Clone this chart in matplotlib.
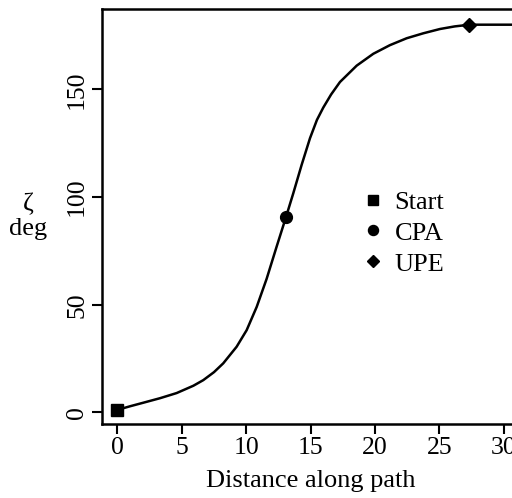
import matplotlib
matplotlib.use("Agg")
import matplotlib.pyplot as plt

plt.rcParams['font.family'] = ['Liberation Serif', 'DejaVu Serif']

# values
distance = [0, 1.0, 2.0, 3.3, 4.6, 5.9, 6.67, 7.5, 8.22, 9.26, 10.04, 10.82, 11.59,
            12.37, 13.09, 13.66, 14.31, 14.96, 15.5, 15.99, 16.6, 17.29, 18.59,
            19.88, 21.17, 22.47, 23.76, 25.06, 26.2, 27.35, 31.0]
zeta = [1.2, 2.9, 4.5, 6.6, 9.0, 12.4, 15.0, 18.7, 22.8, 30.5, 38.2, 49.0, 62.0,
        77.0, 90.6, 101.7, 114.9, 127.3, 135.8, 141.5, 147.6, 153.4, 161.0,
        166.5, 170.5, 173.7, 176.0, 178.0, 179.2, 180.0, 180.0]

events = ['Start', 'CPA', 'UPE']
event_x = [0, 13.09, 27.35]
event_y = [1.2, 90.6, 180.0]
event_markers = ['s', 'o', 'D']
event_sizes = [8, 8.5, 7]

fig = plt.figure(figsize=(5.12, 4.98), dpi=100)
ax = fig.add_axes([0.1992, 0.148, 0.8145, 0.834])

ax.plot(distance, zeta, color='black', lw=1.8, zorder=2)
handles = []
for lab, x, y, m, s in zip(events, event_x, event_y, event_markers, event_sizes):
    h, = ax.plot([x], [y], marker=m, ms=s, color='black', ls='none', label=lab, zorder=3)
    handles.append(h)

ax.set_xlim(-1.2, 31.2)
ax.set_ylim(-5.5, 187.3)
ax.set_xticks([0, 5, 10, 15, 20, 25, 30])
ax.set_yticks([0, 50, 100, 150])
ax.tick_params(axis='both', direction='out', length=7, width=1.5, labelsize=18.5, pad=2)
for lbl in ax.get_yticklabels():
    lbl.set_rotation(90)
    lbl.set_va('center')
ax.tick_params(axis='y', pad=3)
for sp in ax.spines.values():
    sp.set_linewidth(1.8)

ax.set_xlabel('Distance along path', fontsize=19, labelpad=8)
fig.text(0.055, 0.566, 'ζ\ndeg', ha='center', va='center', fontsize=19, linespacing=1.15)

ax.legend(handles=handles, loc='upper left', bbox_to_anchor=(0.6, 0.595),
          frameon=False, fontsize=19, handlelength=0.6, handletextpad=0.5,
          labelspacing=0.28, markerscale=0.85, borderpad=0)

fig.savefig('out.png', dpi=100)
